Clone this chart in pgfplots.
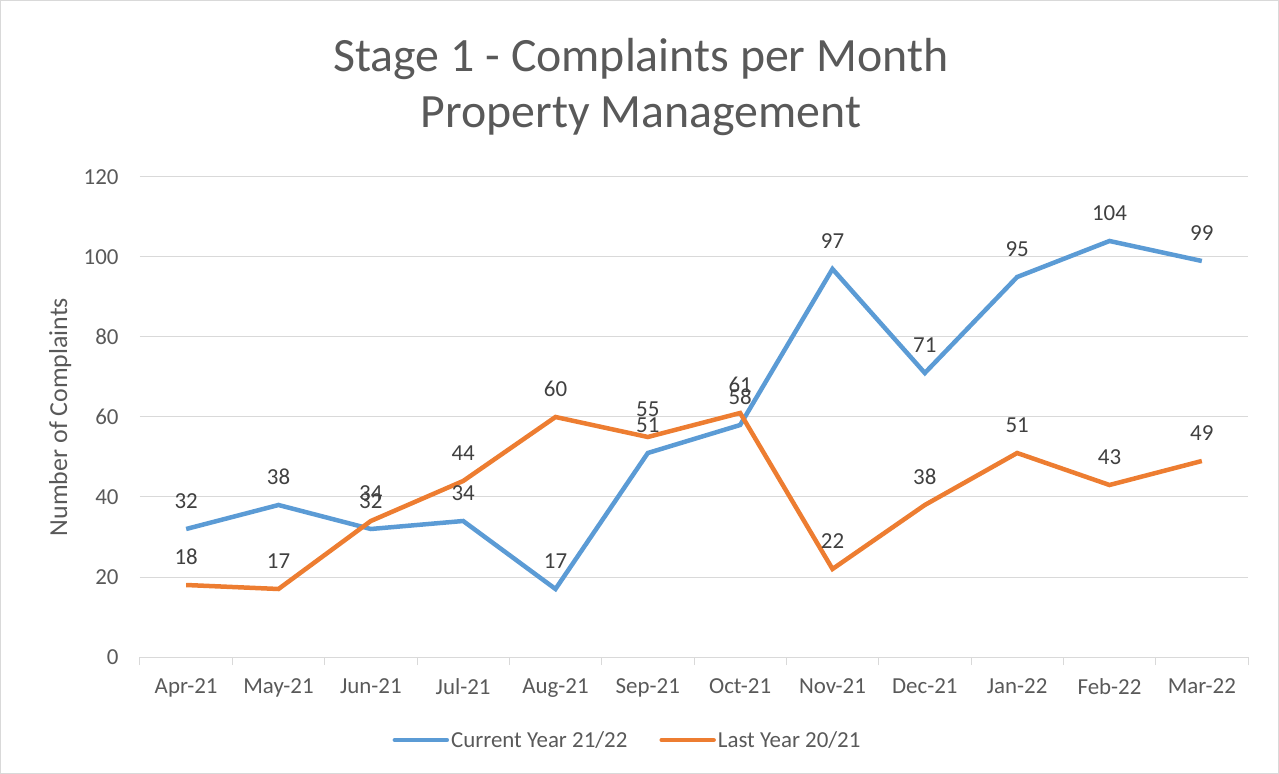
\documentclass[border=0pt]{standalone}
\usepackage{fontspec}
\setmainfont{Carlito}
\usepackage{pgfplots}
\pgfplotsset{compat=1.18}
\definecolor{cblue}{HTML}{5B9BD5}
\definecolor{corange}{HTML}{ED7D31}
\definecolor{txt}{HTML}{595959}
\definecolor{lbl}{HTML}{404040}
\definecolor{gridc}{HTML}{D9D9D9}
\begin{document}
\begin{tikzpicture}
\useasboundingbox (-140bp,-117bp) rectangle (1139bp,657bp);
\draw[gridc] (-139.5bp,-116.5bp) rectangle (1138.5bp,656.5bp);
\begin{axis}[at={(0,0)}, anchor=south west, scale only axis,
  width=1108bp, height=480bp,
  xmin=-0.5, xmax=11.5, ymin=0, ymax=120,
  ytick={0,20,...,120},
  xtick={0,...,11},
  xticklabels={Apr-21,May-21,Jun-21,Jul-21,Aug-21,Sep-21,Oct-21,Nov-21,Dec-21,Jan-22,Feb-22,Mar-22},
  minor xtick={-0.5,0.5,...,11.5},
  major tick length=0pt, minor tick length=8bp, tick align=outside,
  minor tick style={gridc, line width=1bp},
  axis x line*=bottom, axis y line*=left,
  x axis line style={gridc, line width=1bp, -},
  y axis line style={draw=none},
  ymajorgrids, grid style={gridc, line width=1bp},
  /pgf/number format/assume math mode=true,
  tick label style={font=\fontsize{23}{27}\selectfont, text=txt},
  yticklabel style={xshift=-18bp},
  xticklabel style={yshift=-18bp},
  ylabel={Number of Complaints},
  ylabel style={font=\fontsize{26}{30}\selectfont, text=txt, at={(axis description cs:-0.072,0.5)}, anchor=center},
  nodes near coords,
  every node near coord/.append style={font=\fontsize{23}{27}\selectfont, text=lbl, yshift=15bp},
  legend columns=2,
  legend style={at={(axis description cs:0.44,-0.173)}, anchor=center, draw=none, fill=none,
    font=\fontsize{23}{27}\selectfont, text=txt,
    /tikz/every even column/.append style={column sep=30bp}},
  legend image code/.code={\draw[#1, line width=4.5bp, line cap=round] (0bp,0bp) -- (52bp,0bp);},
]
\addplot[cblue, line width=4.5bp, mark=none] coordinates {
(0,32) (1,38) (2,32) (3,34) (4,17) (5,51) (6,58) (7,97) (8,71) (9,95) (10,104) (11,99)};
\addlegendentry{Current Year 21/22}
\addplot[corange, line width=4.5bp, mark=none] coordinates {
(0,18) (1,17) (2,34) (3,44) (4,60) (5,55) (6,61) (7,22) (8,38) (9,51) (10,43) (11,49)};
\addlegendentry{Last Year 20/21}
\end{axis}
\node[font=\fontsize{48}{56}\selectfont, text=txt] at (501bp,598bp) {Stage 1 - Complaints per Month};
\node[font=\fontsize{48}{56}\selectfont, text=txt] at (501bp,541bp) {Property Management};
\end{tikzpicture}
\end{document}
